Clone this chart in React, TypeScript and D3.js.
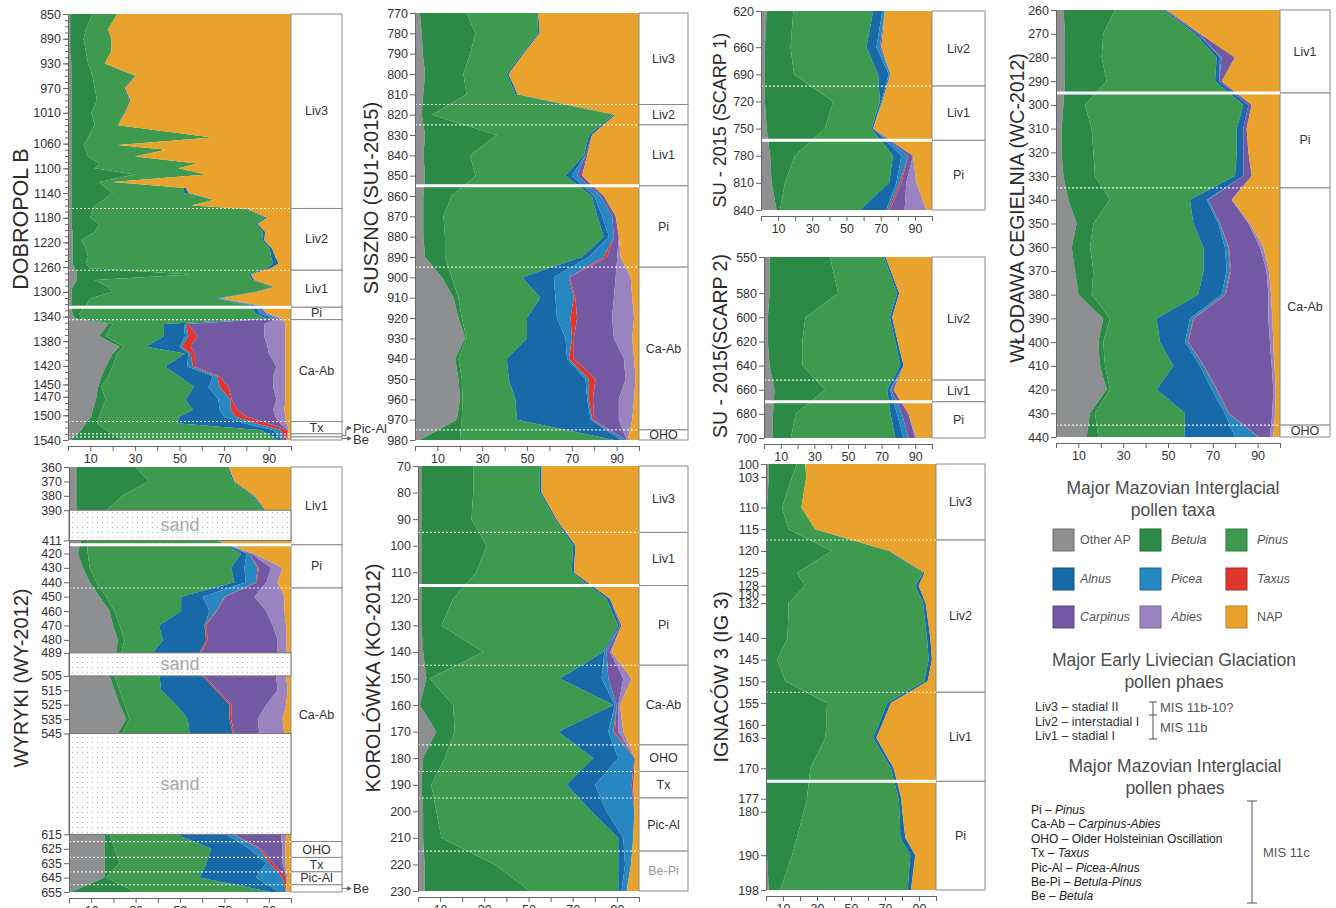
import React, { useEffect, useRef } from "react";
import * as d3 from "d3";

const FONT = "'Liberation Sans', Arial, sans-serif";

// taxa in stacking order, left to right
const TAXA = ["other", "betula", "pinus", "alnus", "picea", "taxus", "carpinus", "abies", "nap"];
const TAXA_LABELS = ["Other AP", "Betula", "Pinus", "Alnus", "Picea", "Taxus", "Carpinus", "Abies", "NAP"];
const TAXA_ITALIC = [false, true, true, true, true, true, true, true, false];
const TAXA_COLORS = ["#8e8f91", "#2c8a47", "#3e9a4f", "#176aa7", "#2787c1", "#e0372c", "#7358a3", "#9a83be", "#e9a22b"];

const PCT_TICKS = [0, 10, 20, 30, 40, 50, 60, 70, 80, 90, 100];
const PCT_LABELS = [10, 30, 50, 70, 90];

// ---------------- DOBROPOL B ----------------
const dobDepth = [850, 875, 890, 910, 930, 950, 970, 990, 1010, 1030, 1050, 1062, 1070, 1081, 1092, 1100, 1110, 1122, 1132, 1140, 1151, 1160, 1166, 1180, 1190, 1203, 1216, 1230, 1243, 1254, 1262, 1272, 1281, 1292, 1300, 1311, 1322, 1335, 1343, 1352, 1372, 1389, 1400, 1421, 1437, 1454, 1475, 1491, 1502, 1513, 1524, 1540];
const dobOther = [1, 1, 1, 1, 1.5, 1.5, 1.5, 1.5, 1.5, 1.5, 1.5, 1.5, 1.5, 1.5, 1.5, 1.5, 1.5, 1.5, 1.5, 1.5, 1.5, 1.5, 1.5, 1.5, 1.5, 2, 2, 2, 2, 2, 3, 4, 4, 2, 1.5, 1.5, 1.5, 2, 3, 18, 14, 23, 20, 17, 15, 13.5, 12.5, 11, 10.5, 8, 6, 1.5];
const dobBetula = [10, 7, 6, 7, 7.5, 9.5, 10.5, 11.5, 9, 10.5, 7.5, 5.5, 6.5, 7.5, 12.5, 10.5, 28.5, 12.5, 15.5, 18.5, 14.5, 10.5, 9.5, 8.5, 12.5, 10, 4, 6, 7, 6, 7, 51, 8, 16, 18.5, 8.5, 6.5, 3, 3, 2, 3, 2, 2, 3, 3, 1.5, 4.5, 4, 3.5, 5, 11, 23.5];
const dobPinus = [11, 10, 12.5, 11.5, 7.5, 19, 13, 14.5, 14.5, 10.5, 55.5, 15.5, 36, 21, 44, 37.5, 32, 6, 35, 32, 49.5, 43.5, 69, 78.5, 70, 75.5, 81, 82.5, 82, 84, 79, 26, 70.5, 73.5, 64, 56, 74, 79, 83, 23, 26, 10, 30.5, 23.5, 32, 41.5, 35.5, 41, 36, 36, 69.5, 69];
const dobAlnus = [0, 0, 0, 0, 0, 0.5, 0.5, 0.5, 0.5, 0, 0, 0, 0, 0, 0, 0, 0, 0, 1, 2, 0, 0, 0.5, 1, 1, 1, 1, 1, 2, 2.5, 2, 1, 1, 1, 1, 1, 2, 2, 3, 9, 9.5, 15, 1.5, 10, 15, 6.5, 15, 12, 20, 30, 5.5, 2];
const dobPicea = [0, 0, 0, 0, 0, 0, 0, 0, 0, 0, 0, 0, 0, 0, 0, 0, 0, 0, 0, 0, 0, 0, 0, 0, 0, 0, 0, 0, 0, 0, 0, 0, 0, 0, 0, 1, 1, 2, 2, 1, 1.5, 1, 1, 2.5, 2, 5, 5.5, 5, 5, 5, 3.5, 1];
const dobTaxus = [0, 0, 0, 0, 0, 0, 0, 0, 0, 0, 0, 0, 0, 0, 0, 0, 0, 0, 0, 0, 0, 0, 0, 0, 0, 0, 0, 0, 0, 0, 0, 0, 0, 0, 0, 0, 0, 0, 0, 1, 4, 4, 2, 1, 1, 4, 0.5, 3, 5, 5.5, 3, 1];
const dobCarpinus = [0, 0, 0, 0, 0, 0, 0, 0, 0, 0, 0, 0, 0, 0, 0, 0, 0, 0, 0, 0, 0, 0, 0, 0, 0, 0, 0, 0, 0, 0, 0, 0, 0, 0, 0, 0.5, 1, 1, 1, 34, 30, 34.5, 33, 36.5, 24, 20, 20, 16, 13, 5.5, 0.3, 0];
const dobAbies = [0, 0, 0, 0, 0, 0, 0, 0, 0, 0, 0, 0, 0, 0, 0, 0, 0, 0, 0, 0, 0, 0, 0, 0, 0, 0, 0, 0, 0, 0, 0, 0, 0, 0, 0, 0, 0, 0.5, 1, 9.5, 9.5, 8, 7.5, 4, 5.5, 5.5, 4, 5, 4.5, 3, 0.2, 0.5];
const dobNap = [78, 82, 80.5, 80.5, 83.5, 69.5, 74.5, 72, 74.5, 77.5, 35.5, 77.5, 56, 70, 42, 50.5, 38, 80, 47, 46, 34.5, 44.5, 19.5, 10.5, 15, 11.5, 12, 8.5, 7, 5.5, 9, 18, 16.5, 7.5, 15, 31.5, 14, 10.5, 4, 2.5, 2.5, 2.5, 2.5, 2.5, 2.5, 2.5, 2.5, 3, 2.5, 2, 1, 1.5];
const dobTicks = [850, 890, 930, 970, 1010, 1060, 1100, 1140, 1180, 1220, 1260, 1300, 1340, 1380, 1420, 1450, 1470, 1500, 1540];
const dobZones = [[850, 1165, "Liv3"], [1165, 1265, "Liv2"], [1265, 1325, "Liv1"], [1325, 1345, "Pi"], [1345, 1510, "Ca-Ab"], [1510, 1530, "Tx"], [1530, 1535, ""], [1535, 1540, ""]];
const dobDashed = [1165, 1265, 1345, 1510, 1530, 1535];

// ---------------- WYRYKI ----------------
const wyrDepth = [360, 370, 380, 390, 411, 420, 430, 440, 450, 460, 470, 480, 489, 505, 515, 525, 535, 545, 615, 625, 635, 645, 655];
const wyrOther = [3.3, 3.3, 3.3, 3.3, 5.5, 4, 6.3, 9.3, 13.8, 18.3, 19.8, 22, 21.3, 18.3, 20.5, 22.8, 25.8, 22, 16, 16, 16, 16, 1];
const wyrBetula = [26.7, 32.7, 20.7, 13.7, 2.5, 4.5, 3, 3, 3, 2.2, 3, 3, 2.2, 2.2, 2.3, 2.2, 1.5, 2, 2.3, 4.5, 6.8, 0.8, 29];
const wyrPinus = [41.5, 37.8, 58.8, 71, 59, 69, 63.7, 62.2, 33.7, 30, 17.7, 17.3, 14.3, 20.3, 18.7, 23.3, 26.2, 30.3, 30, 43.5, 39, 42, 61];
const wyrAlnus = [0.5, 0.7, 0.7, 0.5, 0, 2.5, 6, 5.2, 9.8, 12.8, 20.5, 19.5, 21, 19.5, 24.8, 24, 18.8, 19.5, 22.5, 17.3, 27, 25.4, 3.8];
const wyrPicea = [0, 0, 0, 0, 0, 1, 6, 4.5, 9.7, 3, 0.2, 0, 0, 0, 0, 0, 0, 0, 3, 4.5, 1.5, 12, 3];
const wyrTaxus = [0, 0, 0, 0, 0, 0, 0.5, 0.3, 0.3, 0.3, 0.6, 0.7, 0.7, 0.7, 0.7, 1, 0.7, 0.7, 0.4, 0.7, 1.5, 1.6, 0];
const wyrCarpinus = [0, 0, 0, 0, 0, 1, 5.5, 4.5, 13.2, 22.2, 30, 31.5, 34.5, 32.3, 27, 15.5, 12, 11.3, 21.3, 9.7, 4.4, 0.2, 0];
const wyrAbies = [0, 0, 0, 0, 0, 1, 5.2, 5, 13.5, 8.2, 6, 4, 4, 4.5, 4.5, 9, 11.2, 11.2, 2.3, 1.3, 1.3, 0.3, 0];
const wyrNap = [28, 25.5, 16.5, 11.5, 33, 17, 3.8, 6, 3, 3, 2.2, 2, 2, 2.2, 1.5, 2.2, 3.8, 3, 2.2, 2.5, 2.5, 1.7, 2.2];
const wyrTicks = [360, 370, 380, 390, 411, 420, 430, 440, 450, 460, 470, 480, 489, 505, 515, 525, 535, 545, 615, 625, 635, 645, 655];
const wyrZones = [[360, 414, "Liv1"], [414, 444, "Pi"], [444, 620, "Ca-Ab"], [620, 631, "OHO"], [631, 641, "Tx"], [641, 650, "Pic-Al"], [650, 655, ""]];
const wyrDashed = [444, 620, 631, 641, 650];
const wyrSand = [[390, 411], [489, 505], [545, 615]];

// ---------------- SUSZNO ----------------
const susDepth = [770, 780, 790, 800, 810, 820, 830, 840, 850, 860, 870, 880, 890, 900, 910, 920, 930, 940, 950, 960, 970, 980];
const susOther = [2.2, 3, 3.5, 4.5, 3.7, 3, 4.5, 3.7, 4.5, 3.7, 3.7, 3.7, 4.5, 12, 17.2, 19.4, 22.4, 17.9, 19.4, 20.1, 18.7, 2];
const susBetula = [20.8, 24, 21.1, 17.1, 19.3, 4.5, 32, 20.9, 22.5, 12.7, 9, 9.7, 8.9, 4.4, 2.2, 1.5, 0.6, 1.5, 1.5, 1.1, 2.2, 18];
const susPinus = [31.5, 28, 23.2, 19.4, 21.8, 81.3, 41.1, 50.8, 40.2, 62.6, 68.6, 70.9, 61.2, 31.4, 36.6, 29.1, 27, 21.6, 20.9, 23.6, 24.6, 69];
const susAlnus = [0.5, 0.7, 0.7, 0.8, 1, 0.7, 1.4, 0.6, 2.8, 1, 2.3, 2.3, 3, 14.2, 6.7, 13.4, 17.2, 26.9, 34.3, 32.1, 32.9, 3];
const susPicea = [0, 0, 0, 0, 0, 0, 0, 0, 2.4, 2.8, 4.4, 2.2, 6.7, 6.7, 8.2, 6, 2.9, 0.8, 1.5, 0.7, 0.7, 2];
const susTaxus = [0, 0, 0, 0, 0, 0, 0, 0, 0, 0, 0, 0, 1.5, 0.3, 0.7, 3, 0.8, 2.2, 3, 1.8, 0.8, 0];
const susCarpinus = [0, 0, 0, 0, 0, 0, 0, 0.9, 2.2, 1.5, 1.6, 2.2, 4.5, 20.6, 17.2, 15.6, 17.9, 22.4, 13.4, 11.6, 11.1, 0.5];
const susAbies = [0, 0, 0, 0, 0, 0, 0, 0, 0, 0, 0, 0, 1.5, 6.7, 8.2, 9.8, 8.2, 4.5, 4.5, 6.8, 6, 0.5];
const susNap = [45, 44.3, 51.5, 58.2, 54.2, 10.5, 21, 23.1, 25.4, 15.7, 10.4, 9, 8.2, 3.7, 3, 2.2, 3, 2.2, 1.5, 2.2, 3, 5];
const susTicks = [770, 780, 790, 800, 810, 820, 830, 840, 850, 860, 870, 880, 890, 900, 910, 920, 930, 940, 950, 960, 970, 980];
const susZones = [[770, 815, "Liv3"], [815, 825, "Liv2"], [825, 855, "Liv1"], [855, 895, "Pi"], [895, 975, "Ca-Ab"], [975, 980, "OHO"]];
const susDashed = [815, 825, 895, 975];

// ---------------- KOROLÓWKA ----------------
const korDepth = [70, 80, 90, 100, 110, 120, 130, 140, 150, 160, 170, 180, 190, 200, 210, 220, 230];
const korOther = [1.5, 1.5, 1.5, 1.5, 1.5, 1.5, 1.5, 2.3, 3.8, 0.8, 8.3, 2.3, 1.5, 2.3, 2.3, 3, 3];
const korBetula = [23.5, 23.5, 22.7, 29.5, 24.9, 14.4, 9.1, 27.2, 1.5, 15.1, 8.3, 9.8, 4.5, 6, 8.3, 31.7, 47.6];
const korPinus = [30.1, 30.1, 37.8, 39.2, 43.1, 69.4, 80, 54.3, 58.9, 72.5, 46.8, 67.2, 61.2, 70.2, 80, 55.9, 40];
const korAlnus = [0.8, 0.8, 0.7, 1.1, 1, 1.6, 0.8, 0.5, 18.9, 0.7, 22.7, 11.3, 12.9, 6.8, 2.3, 3.1, 1.5];
const korPicea = [0, 0, 0, 0, 0, 0, 0, 1, 3, 0.8, 2.3, 7.3, 16.6, 12.6, 4.5, 2.7, 2.3];
const korTaxus = [0, 0, 0, 0, 0, 0, 0, 0, 0, 0, 0.7, 0.3, 0.7, 0, 0, 0, 0];
const korCarpinus = [0, 0, 0, 0, 0, 0, 0.7, 1.6, 6.8, 0.7, 1.5, 0, 0.1, 0, 0, 0, 0];
const korAbies = [0, 0, 0, 0, 0, 0, 0, 0.7, 3.8, 0.8, 2.3, 0, 0.1, 0, 0, 0, 0];
const korNap = [44.1, 44.1, 37.3, 28.7, 29.5, 13.1, 7.9, 12.4, 3.3, 8.6, 7.1, 1.8, 2.4, 2.1, 2.6, 3.6, 5.6];
const korTicks = [70, 80, 90, 100, 110, 120, 130, 140, 150, 160, 170, 180, 190, 200, 210, 220, 230];
const korZones = [[70, 95, "Liv3"], [95, 115, "Liv1"], [115, 145, "Pi"], [145, 175, "Ca-Ab"], [175, 185, "OHO"], [185, 195, "Tx"], [195, 215, "Pic-Al"], [215, 230, "Be-Pi"]];
const korDashed = [95, 145, 175, 185, 195, 215];

// ---------------- SU-2015 SCARP 1 ----------------
const sc1Depth = [620, 660, 690, 720, 750, 780, 810, 840];
const sc1Other = [3.3, 2.3, 2.3, 2.3, 3.3, 5.3, 6.2, 9.1];
const sc1Betula = [15.6, 15, 17, 39.9, 34.1, 14.5, 7.8, 2];
const sc1Pinus = [46.7, 44.4, 49.2, 27.3, 27.2, 57.4, 60.9, 46.7];
const sc1Alnus = [5.4, 5.8, 6.2, 0.9, 1, 4.9, 4.3, 15.5];
const sc1Picea = [1.4, 2, 1, 0.6, 0, 3.9, 1.9, 1];
const sc1Taxus = [0, 0, 0, 0, 0, 0, 1, 1];
const sc1Carpinus = [0, 0.9, 0, 0, 0, 2.9, 2.9, 8.7];
const sc1Abies = [0, 0, 0, 0, 0, 0, 5.9, 12.7];
const sc1Nap = [27.6, 29.6, 24.3, 29, 34.4, 11.1, 9.1, 3.3];
const sc1Ticks = [620, 660, 690, 720, 750, 780, 810, 840];
const sc1Zones = [[620, 703, "Liv2"], [703, 763, "Liv1"], [763, 840, "Pi"]];
const sc1Dashed = [703];

// ---------------- SU-2015 SCARP 2 ----------------
const sc2Depth = [550, 580, 600, 620, 640, 660, 680, 700];
const sc2Other = [3.3, 3.3, 2.3, 2.3, 3.3, 6.2, 5.3, 5.3];
const sc2Betula = [36, 40.9, 22.4, 20.5, 19.5, 30.2, 13.6, 10.7];
const sc2Pinus = [32.1, 35, 50.2, 55.4, 58.3, 36.9, 56.4, 62.2];
const sc2Alnus = [1, 1.3, 1.4, 1.4, 2, 1.6, 3.9, 4.9];
const sc2Picea = [0, 0, 0, 0, 0, 0.8, 2.9, 2.9];
const sc2Carpinus = [0, 0, 0, 0, 0, 1.5, 3.9, 3.9];
const sc2Abies = [0, 0, 0, 0, 0, 0, 0, 1];
const sc2Nap = [27.6, 19.5, 23.7, 20.4, 16.9, 22.8, 14, 9.1];
const sc2Ticks = [550, 580, 600, 620, 640, 660, 680, 700];
const sc2Zones = [[550, 652, "Liv2"], [652, 670, "Liv1"], [670, 700, "Pi"]];
const sc2Dashed = [652];

// ---------------- IGNACÓW 3 ----------------
const ignDepth = [100, 103, 110, 115, 120, 125, 128, 132, 140, 145, 150, 155, 160, 163, 170, 177, 180, 186, 190, 198];
const ignOther = [1.6, 1.6, 0.6, 0.6, 0.6, 0.6, 0.6, 0.6, 0.6, 0.6, 0.6, 0.6, 0.6, 0.6, 0.6, 0.6, 0.6, 0.6, 0.6, 1.6];
const ignBetula = [16.6, 13.7, 8.8, 12.7, 38.2, 17.6, 22.5, 12.7, 12.1, 5.9, 10.8, 35.3, 34.9, 34.3, 25.5, 23.5, 21.6, 17.6, 14.7, 6.8];
const ignPinus = [4.9, 8.4, 11.4, 15.7, 33.4, 74.2, 64.7, 79.1, 82, 89.2, 81.7, 35.3, 30.8, 28, 47.4, 53.9, 56.4, 60.8, 69.6, 74.9];
const ignAlnus = [0, 0, 0, 0, 0.5, 0.9, 2, 1.5, 2, 1.9, 2, 2.3, 1.9, 2, 1.6, 1.6, 1.6, 3, 2.9, 2];
const ignNap = [76.9, 76.3, 79.2, 71, 27.3, 6.7, 10.2, 6.1, 3.3, 2.4, 4.9, 26.5, 31.8, 35.1, 24.9, 20.4, 19.8, 18, 12.2, 14.7];
const ignTicks = [100, 103, 110, 115, 120, 125, 128, 130, 132, 140, 145, 150, 155, 160, 163, 170, 177, 180, 190, 198];
const ignZones = [[100, 117.5, "Liv3"], [117.5, 152.5, "Liv2"], [152.5, 173, "Liv1"], [173, 198, "Pi"]];
const ignDashed = [117.5, 152.5];

// ---------------- WŁODAWA CEGIELNIA ----------------
const wcDepth = [260, 270, 280, 290, 300, 310, 320, 330, 340, 350, 360, 370, 380, 390, 400, 410, 420, 430, 440];
const wcOther = [3.3, 4, 4, 4, 3.3, 2.5, 2.5, 3.3, 5.5, 9.2, 7, 8.5, 10, 21.1, 18.9, 19.6, 22.6, 15.2, 13.7];
const wcBetula = [23, 17.1, 16.4, 18.6, 9.6, 13.4, 14.2, 14.1, 18.6, 7.5, 8.2, 8.2, 5.9, 3, 2.2, 2.3, 1.5, 2.2, 5.2];
const wcPinus = [21.6, 41, 51.3, 48.4, 70.7, 64.8, 64, 62.5, 35.7, 44.6, 50.6, 49.1, 47.6, 20.8, 25.3, 30.5, 20.8, 40.2, 38.4];
const wcAlnus = [0.8, 1.4, 1.5, 1.8, 2.3, 2.9, 2.9, 3.7, 7.5, 11.2, 9.6, 10.4, 10.4, 14.9, 11.2, 11.9, 24.6, 17.8, 22.6];
const wcPicea = [0, 0, 0.7, 0, 0, 0, 0, 0, 0.7, 0.7, 1.5, 1.5, 1.5, 1.5, 1.2, 1.5, 2.2, 1.5, 10.4];
const wcTaxus = [0, 0, 0, 0, 0, 0, 0, 0, 0, 0.1, 0.3, 0.4, 0.3, 0.3, 0.3, 0.3, 0.3, 0.3, 0.3];
const wcCarpinus = [0.7, 0.8, 6, 1.2, 1.5, 1.5, 2.3, 3.8, 10.4, 12.6, 13.9, 15.9, 19.1, 33.2, 36.4, 30.2, 25, 19.4, 4.9];
const wcAbies = [0, 0, 0, 0, 0, 0, 0, 0, 0.3, 0.7, 1.5, 1.1, 1.2, 1.8, 1.5, 1.2, 1.1, 1.2, 1.5];
const wcNap = [50.6, 35.7, 20.1, 26, 12.6, 14.9, 14.1, 12.6, 21.3, 13.4, 7.4, 4.9, 4, 3.4, 3, 2.5, 1.9, 2.2, 3];
const wcTicks = [260, 270, 280, 290, 300, 310, 320, 330, 340, 350, 360, 370, 380, 390, 400, 410, 420, 430, 440];
const wcZones = [[260, 295, "Liv1"], [295, 335, "Pi"], [335, 435, "Ca-Ab"], [435, 440, "OHO"]];
const wcDashed = [335, 435];

// legend texts
const LIV_PHASES = ["Liv3 – stadial II", "Liv2 – interstadial I", "Liv1 – stadial I"];
const MAZ_PHASES = [["Pi – ", "Pinus"], ["Ca-Ab – ", "Carpinus-Abies"], ["OHO – Older Holsteinian Oscillation", ""], ["Tx – ", "Taxus"], ["Pic-Al – ", "Picea-Alnus"], ["Be-Pi – ", "Betula-Pinus"], ["Be – ", "Betula"]];

// build row objects for d3.stack; a missing taxon counts as absent (0)
function makeRows(depth, cols) {
  return depth.map((d, i) => {
    const r: any = { depth: d };
    TAXA.forEach((k, j) => { r[k] = cols[j] ? cols[j][i] : 0; });
    return r;
  });
}

const PANELS = [
  { id: "dob", title: "DOBROPOL B", tx: 21, ty: 219, tfs: 21.5, x0: 68, x1: 291, zr: 342, y0: 14, y1: 440, domain: [850, 1540],
    rows: makeRows(dobDepth, [dobOther, dobBetula, dobPinus, dobAlnus, dobPicea, dobTaxus, dobCarpinus, dobAbies, dobNap]),
    ticks: dobTicks, minor: d3.range(850, 1541, 10), zones: dobZones, dashed: dobDashed, thick: 1325,
    arrows: [{ from: 1532.5, ty: 428, label: "Pic-Al" }, { from: 1537.5, ty: 439, label: "Be" }] },
  { id: "wyr", title: "WYRYKI (WY-2012)", tx: 21, ty: 678, tfs: 20, x0: 69, x1: 291, zr: 342, y0: 467, y1: 892, domain: [360, 655],
    rows: makeRows(wyrDepth, [wyrOther, wyrBetula, wyrPinus, wyrAlnus, wyrPicea, wyrTaxus, wyrCarpinus, wyrAbies, wyrNap]),
    ticks: wyrTicks, zones: wyrZones, dashed: wyrDashed, thick: 414, sand: wyrSand,
    arrows: [{ from: 652.5, ty: 888, label: "Be" }] },
  { id: "sus", title: "SUSZNO (SU1-2015)", tx: 371, ty: 198, tfs: 20, x0: 415, x1: 639, zr: 688, y0: 13, y1: 440, domain: [770, 980],
    rows: makeRows(susDepth, [susOther, susBetula, susPinus, susAlnus, susPicea, susTaxus, susCarpinus, susAbies, susNap]),
    ticks: susTicks, zones: susZones, dashed: susDashed, thick: 855 },
  { id: "kor", title: "KOROLÓWKA (KO-2012)", tx: 373, ty: 678, tfs: 20, x0: 418, x1: 639, zr: 688, y0: 466, y1: 891, domain: [70, 230],
    rows: makeRows(korDepth, [korOther, korBetula, korPinus, korAlnus, korPicea, korTaxus, korCarpinus, korAbies, korNap]),
    ticks: korTicks, zones: korZones, dashed: korDashed, thick: 115 },
  { id: "sc1", title: "SU - 2015 (SCARP 1)", tx: 720, ty: 120, tfs: 18, x0: 761, x1: 932, zr: 985, y0: 11, y1: 210, domain: [620, 840],
    rows: makeRows(sc1Depth, [sc1Other, sc1Betula, sc1Pinus, sc1Alnus, sc1Picea, sc1Taxus, sc1Carpinus, sc1Abies, sc1Nap]),
    ticks: sc1Ticks, zones: sc1Zones, dashed: sc1Dashed, thick: 763 },
  { id: "sc2", title: "SU - 2015(SCARP 2)", tx: 720, ty: 346, tfs: 19.5, x0: 764, x1: 932, zr: 985, y0: 257, y1: 438, domain: [550, 700],
    rows: makeRows(sc2Depth, [sc2Other, sc2Betula, sc2Pinus, sc2Alnus, sc2Picea, null, sc2Carpinus, sc2Abies, sc2Nap]),
    ticks: sc2Ticks, zones: sc2Zones, dashed: sc2Dashed, thick: 670 },
  { id: "ign", title: "IGNACÓW 3 (IG 3)", tx: 721, ty: 677, tfs: 20, x0: 766, x1: 936, zr: 985, y0: 464, y1: 890, domain: [100, 198],
    rows: makeRows(ignDepth, [ignOther, ignBetula, ignPinus, ignAlnus, null, null, null, null, ignNap]),
    ticks: ignTicks, zones: ignZones, dashed: ignDashed, thick: 173 },
  { id: "wc", title: "WŁODAWA CEGIELNIA (WC-2012)", tx: 1017, ty: 208, tfs: 19.5, x0: 1056, x1: 1280, zr: 1330, y0: 10, y1: 437, domain: [260, 440],
    rows: makeRows(wcDepth, [wcOther, wcBetula, wcPinus, wcAlnus, wcPicea, wcTaxus, wcCarpinus, wcAbies, wcNap]),
    ticks: wcTicks, zones: wcZones, dashed: wcDashed, thick: 295 },
];

function styleAxis(g, hideDomain) {
  g.attr("font-family", FONT).attr("font-size", 12.5);
  g.select(".domain").attr("stroke", hideDomain ? "none" : "#666");
  g.selectAll(".tick line").attr("stroke", "#666");
  g.selectAll(".tick text").attr("fill", "#333");
}

function AxisG({ axis, transform, hideDomain }: any) {
  const ref = useRef<SVGGElement>(null);
  useEffect(() => {
    const g = d3.select(ref.current);
    g.call(axis);
    styleAxis(g, hideDomain);
  });
  return <g ref={ref} transform={transform} />;
}

function Panel({ p }: any) {
  const x = d3.scaleLinear().domain([0, 100]).range([p.x0, p.x1]);
  const y = d3.scaleLinear().domain(p.domain).range([p.y0, p.y1]);
  const series = d3.stack().keys(TAXA)(p.rows);
  const area = d3.area<any>()
    .y((d) => y(d.data.depth))
    .x0((d) => x(d[0]))
    .x1((d) => x(d[1]));
  const clipId = `clip-${p.id}`;

  const leftAxis = d3.axisLeft(y).tickValues(p.ticks).tickSize(5).tickSizeOuter(0).tickPadding(2).tickFormat(d3.format("d"));
  const minorAxis = p.minor ? d3.axisLeft(y).tickValues(p.minor).tickSize(3).tickSizeOuter(0).tickFormat(() => "") : null;
  const bottomAxis = d3.axisBottom(x).tickValues(PCT_TICKS).tickSize(5).tickSizeOuter(0).tickPadding(3)
    .tickFormat((d: any) => (PCT_LABELS.includes(d) ? String(d) : ""));

  return (
    <g>
      <defs>
        <clipPath id={clipId}>
          <rect x={p.x0} y={p.y0} width={p.x1 - p.x0} height={p.y1 - p.y0} />
        </clipPath>
      </defs>
      <g clipPath={`url(#${clipId})`}>
        {series.map((s, i) => (
          <path key={TAXA[i]} d={area(s as any) || ""} fill={TAXA_COLORS[i]} stroke="none" />
        ))}
      </g>
      {/* zone column */}
      {p.zones.map(([a, b, label], i) => (
        <g key={i}>
          <rect x={p.x1} y={y(a)} width={p.zr - p.x1} height={y(b) - y(a)} fill="#fff" stroke="#8a8a8a" strokeWidth={1} />
          {label && (
            <text x={(p.x1 + p.zr) / 2} y={(y(a) + y(b)) / 2} textAnchor="middle" dominantBaseline="central"
              fontSize={12.5} fontFamily={FONT} fill={label === "Be-Pi" ? "#999" : "#333"}>{label}</text>
          )}
        </g>
      ))}
      {/* dashed zone boundaries */}
      {p.dashed.map((d) => (
        <line key={d} x1={p.x0} x2={p.x1} y1={y(d)} y2={y(d)} stroke="#fff" strokeWidth={1.1} strokeDasharray="2,2" opacity={0.9} />
      ))}
      <line x1={p.x0} x2={p.x1} y1={y(p.thick)} y2={y(p.thick)} stroke="#fff" strokeWidth={3} />
      {/* sand layers */}
      {p.sand && p.sand.map(([a, b], i) => (
        <g key={i}>
          <rect x={p.x0} y={y(a)} width={p.x1 - p.x0} height={y(b) - y(a)} fill="url(#sandDots)" stroke="#777" strokeWidth={1} />
          <text x={(p.x0 + p.x1) / 2} y={(y(a) + y(b)) / 2} textAnchor="middle" dominantBaseline="central"
            fontSize={18} fontFamily={FONT} fill="#aaa">sand</text>
        </g>
      ))}
      {/* side arrows for thin zones */}
      {p.arrows && p.arrows.map((a, i) => {
        const ys = y(a.from);
        const pts = ys === a.ty || Math.abs(ys - a.ty) < 2
          ? `${p.zr},${ys} ${p.zr + 9},${ys}`
          : `${p.zr},${ys} ${p.zr + 4},${ys} ${p.zr + 4},${a.ty} ${p.zr + 9},${a.ty}`;
        return (
          <g key={i}>
            <polyline points={pts} fill="none" stroke="#666" strokeWidth={0.9} markerEnd="url(#arrowHead)" />
            <text x={p.zr + 11} y={a.ty} dominantBaseline="central" fontSize={13} fontFamily={FONT} fill="#333">{a.label}</text>
          </g>
        );
      })}
      {minorAxis && <AxisG axis={minorAxis} transform={`translate(${p.x0},0)`} hideDomain />}
      <AxisG axis={leftAxis} transform={`translate(${p.x0},0)`} />
      <AxisG axis={bottomAxis} transform={`translate(0,${p.y1 + 6})`} />
      <text transform={`translate(${p.tx},${p.ty}) rotate(-90)`} textAnchor="middle" dominantBaseline="central"
        fontSize={p.tfs} fontFamily={FONT} fill="#2b2b2b">{p.title}</text>
    </g>
  );
}

function Legend() {
  const colX = [1053, 1140, 1226];
  const labX = [1080, 1171, 1257];
  const rowY = [529, 568, 606];
  return (
    <g fontFamily={FONT}>
      <text x={1173} y={488} textAnchor="middle" dominantBaseline="central" fontSize={17.5} fill="#4d4d4d">Major Mazovian Interglacial</text>
      <text x={1173} y={510} textAnchor="middle" dominantBaseline="central" fontSize={17.5} fill="#4d4d4d">pollen taxa</text>
      {TAXA.map((k, i) => {
        const c = i % 3, r = Math.floor(i / 3);
        return (
          <g key={k}>
            <rect x={colX[c]} y={rowY[r]} width={21} height={22} fill={TAXA_COLORS[i]}
              stroke={d3.color(TAXA_COLORS[i])!.darker(0.7).toString()} strokeWidth={1} />
            <text x={labX[c]} y={rowY[r] + 11} dominantBaseline="central" fontSize={12.5} fill="#555"
              fontStyle={TAXA_ITALIC[i] ? "italic" : "normal"}>{TAXA_LABELS[i]}</text>
          </g>
        );
      })}

      <text x={1174} y={660} textAnchor="middle" dominantBaseline="central" fontSize={17.5} fill="#4d4d4d">Major Early Liviecian Glaciation</text>
      <text x={1174} y={682} textAnchor="middle" dominantBaseline="central" fontSize={17.5} fill="#4d4d4d">pollen phaes</text>
      {LIV_PHASES.map((t, i) => (
        <text key={t} x={1035} y={707 + i * 14.5} dominantBaseline="central" fontSize={12.5} fill="#333">{t}</text>
      ))}
      <g stroke="#555" strokeWidth={1}>
        <line x1={1153} x2={1153} y1={702} y2={739} />
        <line x1={1149} x2={1157} y1={702} y2={702} />
        <line x1={1149} x2={1157} y1={715} y2={715} />
        <line x1={1149} x2={1157} y1={739} y2={739} />
      </g>
      <text x={1160} y={707} dominantBaseline="central" fontSize={13} fill="#555">MIS 11b-10?</text>
      <text x={1160} y={727} dominantBaseline="central" fontSize={13} fill="#555">MIS 11b</text>

      <text x={1175} y={766} textAnchor="middle" dominantBaseline="central" fontSize={17.5} fill="#4d4d4d">Major Mazovian Interglacial</text>
      <text x={1175} y={788} textAnchor="middle" dominantBaseline="central" fontSize={17.5} fill="#4d4d4d">pollen phaes</text>
      {MAZ_PHASES.map(([a, b], i) => (
        <text key={a} x={1031} y={810 + i * 14.4} dominantBaseline="central" fontSize={12} fill="#222">
          {a}<tspan fontStyle="italic">{b}</tspan>
        </text>
      ))}
      <g stroke="#555" strokeWidth={1}>
        <line x1={1252} x2={1252} y1={801} y2={903} />
        <line x1={1247} x2={1257} y1={801} y2={801} />
        <line x1={1247} x2={1257} y1={903} y2={903} />
      </g>
      <text x={1263} y={852} dominantBaseline="central" fontSize={13} fill="#555">MIS 11c</text>
    </g>
  );
}

export default function App() {
  return (
    <svg width={1336} height={908} style={{ position: "absolute", left: 0, top: 0, background: "#fff" }}>
      <defs>
        <pattern id="sandDots" width={5} height={5} patternUnits="userSpaceOnUse">
          <rect width={5} height={5} fill="#fbfbfb" />
          <circle cx={2.5} cy={2.5} r={0.55} fill="#b5b5b5" />
        </pattern>
        <marker id="arrowHead" viewBox="0 0 6 6" refX={5} refY={3} markerWidth={5} markerHeight={5} orient="auto">
          <path d="M0,0 L6,3 L0,6 z" fill="#555" />
        </marker>
      </defs>
      {PANELS.map((p) => (
        <Panel key={p.id} p={p} />
      ))}
      <Legend />
    </svg>
  );
}
